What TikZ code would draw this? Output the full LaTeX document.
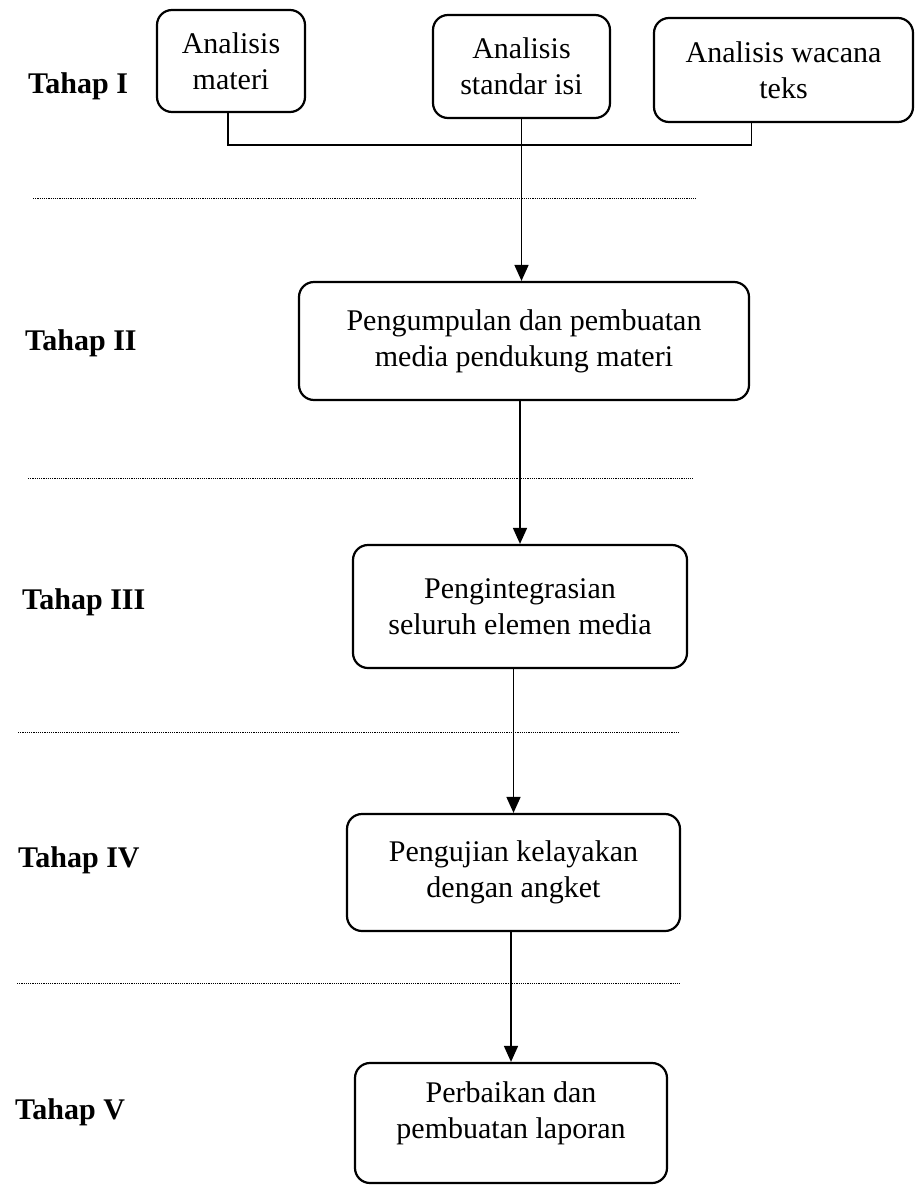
\documentclass[tikz,border=0pt]{standalone}
\usepackage{fontspec}
\setmainfont{Liberation Serif}
\usetikzlibrary{arrows.meta}
\begin{document}
\begin{tikzpicture}[x=1pt,y=-1pt,
  box/.style={draw, line width=2.2pt, rounded corners=15pt, align=center, inner sep=0pt, font=\fontsize{30}{36}\selectfont},
  stage/.style={anchor=base west, inner sep=0pt, font=\fontsize{30}{36}\selectfont\bfseries},
  conn/.style={line width=1.6pt},
  arr/.style={conn, -{Triangle[length=16pt,width=14pt]}},
  sep/.style={line width=1pt, dash pattern=on 1.2pt off 1pt}]
\useasboundingbox (0,0) rectangle (916,1186);

% stage labels
\node[stage] (t1) at (28,93) {Tahap I};
\node[stage] (t2) at (25,350) {Tahap II};
\node[stage] (t3) at (22,609) {Tahap III};
\node[stage] (t4) at (18,867) {Tahap IV};
\node[stage] (t5) at (15,1119) {Tahap V};

% boxes
\node[box, minimum width=148pt, minimum height=102pt] (A) at (231,61) {Analisis\\materi};
\node[box, minimum width=177pt, minimum height=103pt] (B) at (521.5,66.5) {Analisis\\standar isi};
\node[box, minimum width=259pt, minimum height=104pt] (C) at (783.5,70) {Analisis wacana\\teks};
\node[box, minimum width=450pt, minimum height=118pt] (II) at (524,341) {Pengumpulan dan pembuatan\\media pendukung materi};
\node[box, minimum width=334pt, minimum height=123pt] (III) at (520,606.5) {Pengintegrasian\\seluruh elemen media};
\node[box, minimum width=333pt, minimum height=117pt] (IV) at (513.5,872.5) {Pengujian kelayakan\\dengan angket};
\node[box, minimum width=312pt, minimum height=120pt] (V) at (511,1123) {Perbaikan dan\\pembuatan laporan\\[-10pt]\mbox{}};

% dotted separators
\draw[sep] (33,198) -- (696,198);
\draw[sep] (28,478) -- (693,478);
\draw[sep] (18,732) -- (680,732);
\draw[sep] (17,983) -- (680,983);

% connectors
\coordinate (j) at (521,145);
\draw[conn] ([xshift=-3pt]A.south) |- (j) -| ([xshift=-32pt]C.south);
\draw[arr] (B.south) -- (B.south |- II.north);
\draw[arr] (II.south -| III.north) -- (III.north);
\draw[arr] (III.south -| IV.north) -- (IV.north);
\draw[arr] (IV.south -| V.north) -- (V.north);
\end{tikzpicture}
\end{document}
